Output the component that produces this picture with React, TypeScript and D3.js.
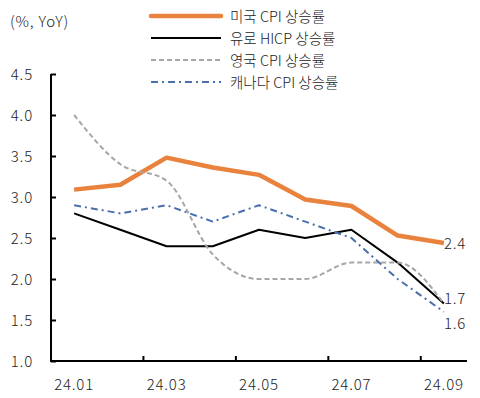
import React, { useEffect, useRef } from "react";
import * as d3 from "d3";

const months = ["24.01", "24.02", "24.03", "24.04", "24.05", "24.06", "24.07", "24.08", "24.09"];
const usCpi = [3.09, 3.15, 3.48, 3.36, 3.27, 2.97, 2.89, 2.53, 2.44];
const euroHicp = [2.8, 2.6, 2.4, 2.4, 2.6, 2.5, 2.6, 2.2, 1.7];
const ukCpi = [4.0, 3.4, 3.2, 2.3, 2.0, 2.0, 2.2, 2.2, 1.7];
const canadaCpi = [2.9, 2.8, 2.9, 2.7, 2.9, 2.7, 2.5, 2.0, 1.6];
const yTicks = [1.0, 1.5, 2.0, 2.5, 3.0, 3.5, 4.0, 4.5];
const xLabels = ["24.01", "24.03", "24.05", "24.07", "24.09"];

const seriesNames = ["미국 CPI 상승률", "유로 HICP 상승률", "영국 CPI 상승률", "캐나다 CPI 상승률"];

const FONT = "'Noto Sans CJK KR', 'Noto Sans', sans-serif";

const App: React.FC = () => {
  const svgRef = useRef<SVGSVGElement>(null);

  useEffect(() => {
    const svg = d3.select(svgRef.current);
    svg.selectAll("*").remove();

    const margin = { left: 51, right: 13, top: 74, bottom: 37 };
    const width = 480;
    const height = 398;

    const x = d3
      .scaleBand()
      .domain(months)
      .range([margin.left, width - margin.right]);
    const y = d3
      .scaleLinear()
      .domain([1.0, 4.5])
      .range([height - margin.bottom, margin.top]);

    const cx = (m: string) => (x(m) ?? 0) + x.bandwidth() / 2;

    // 숫자 텍스트 공통 스타일
    const numText = (sel: any) =>
      sel
        .attr("font-family", FONT)
        .attr("font-size", 15)
        .attr("font-weight", 300)
        .attr("letter-spacing", 0.8)
        .attr("fill", "#222");

    // y axis
    const yAxis = svg
      .append("g")
      .attr("transform", `translate(${margin.left},0)`)
      .call(
        d3
          .axisRight(y)
          .tickValues(yTicks)
          .tickSize(5)
          .tickFormat(() => "")
      );
    yAxis.select(".domain").attr("stroke", "#000").attr("stroke-width", 2).attr("d", `M0,${y(4.5)}V${y(1.0)}`);
    yAxis.selectAll(".tick line").attr("stroke", "#000").attr("stroke-width", 2);

    svg
      .append("g")
      .selectAll("text")
      .data(yTicks)
      .join("text")
      .attr("x", 33)
      .attr("y", (d) => y(d) + 5.5)
      .attr("text-anchor", "end")
      .call(numText)
      .text((d) => d.toFixed(1));

    // x axis
    const boundaries = [2, 4, 6, 8].map((i) => x(months[i]) ?? 0);
    const base = y(1.0);
    svg
      .append("line")
      .attr("x1", margin.left - 1)
      .attr("x2", width - margin.right)
      .attr("y1", base)
      .attr("y2", base)
      .attr("stroke", "#000")
      .attr("stroke-width", 2);
    svg
      .append("g")
      .selectAll("line")
      .data(boundaries)
      .join("line")
      .attr("x1", (d) => d)
      .attr("x2", (d) => d)
      .attr("y1", base)
      .attr("y2", base - 5)
      .attr("stroke", "#000")
      .attr("stroke-width", 2);
    svg
      .append("g")
      .selectAll("text")
      .data(xLabels)
      .join("text")
      .attr("x", (d) => cx(d))
      .attr("y", base + 29)
      .attr("text-anchor", "middle")
      .call(numText)
      .text((d) => d);

    // unit
    svg
      .append("text")
      .attr("x", 10)
      .attr("y", 27)
      .call(numText)
      .text("(%, YoY)");

    const series = [
      { values: usCpi, color: "#E8823C", width: 4.5, dash: null as string | null, curve: d3.curveLinear },
      { values: euroHicp, color: "#000", width: 2, dash: null, curve: d3.curveLinear },
      { values: ukCpi, color: "#A6A6A6", width: 2, dash: "5,3", curve: d3.curveMonotoneX },
      { values: canadaCpi, color: "#4A6FAE", width: 2, dash: "7,4,2,4", curve: d3.curveLinear },
    ];

    series.forEach((s) => {
      const line = d3
        .line<number>()
        .x((_, i) => cx(months[i]))
        .y((d) => y(d))
        .curve(s.curve);
      svg
        .append("path")
        .datum(s.values)
        .attr("d", line)
        .attr("fill", "none")
        .attr("stroke", s.color)
        .attr("stroke-width", s.width)
        .attr("stroke-linejoin", "round")
        .attr("stroke-dasharray", s.dash);
    });

    // end labels
    const last = months.length - 1;
    const endLabels = [
      { v: usCpi[last], dy: 6 },
      { v: euroHicp[last], dy: 0 },
      { v: canadaCpi[last], dy: 17 },
    ];
    svg
      .append("g")
      .selectAll("text")
      .data(endLabels)
      .join("text")
      .attr("x", cx(months[last]))
      .attr("y", (d) => y(d.v) + d.dy)
      .call(numText)
      .text((d) => d.v.toFixed(1));

    // legend
    const legend = svg.append("g");
    seriesNames.forEach((name, i) => {
      const s = series[i];
      const ly = 16 + i * 22;
      legend
        .append("line")
        .attr("x1", 151)
        .attr("x2", 221)
        .attr("y1", ly)
        .attr("y2", ly)
        .attr("stroke", s.color)
        .attr("stroke-width", s.width)
        .attr("stroke-linecap", i === 0 ? "round" : "butt")
        .attr("stroke-dasharray", s.dash);
      legend
        .append("text")
        .attr("x", 230)
        .attr("y", ly + 5.5)
        .attr("font-family", FONT)
        .attr("font-size", 14.5)
        .attr("font-weight", 300)
        .attr("fill", "#222")
        .text(name);
    });
  }, []);

  return <svg ref={svgRef} width={480} height={398} style={{ display: "block", position: "absolute", left: 0, top: 0, background: "#fff" }} />;
};

export default App;
